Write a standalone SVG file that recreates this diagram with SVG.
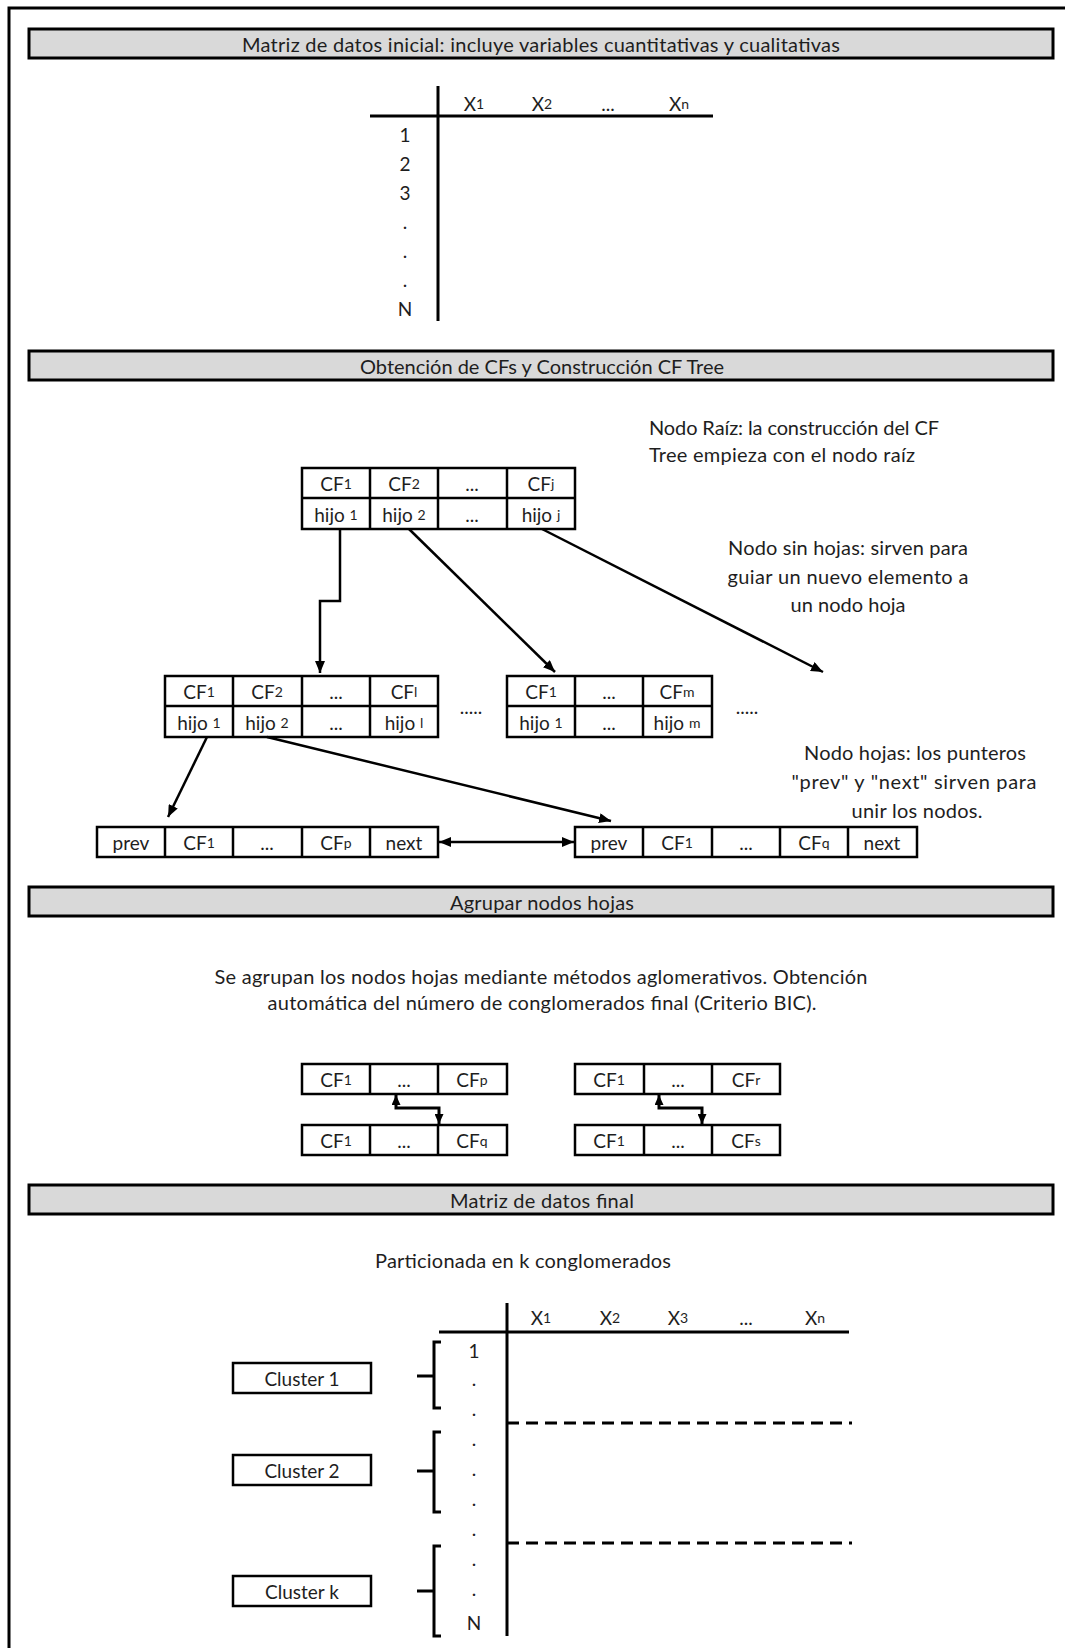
<svg xmlns="http://www.w3.org/2000/svg" width="1065" height="1648" viewBox="0 0 1065 1648">
<defs>
<style>
text{font-family:Lato,"Liberation Sans",sans-serif;font-size:19px;fill:#1e1e1e;}
.big{font-size:20px;}
.m{text-anchor:middle;dominant-baseline:central;}
.s{text-anchor:start;dominant-baseline:central;}
.sub{font-size:14px;}
.hdr{fill:#d9d9d9;stroke:#000;stroke-width:3;}
.box{fill:#fff;stroke:#000;stroke-width:2.5;}
.ln{fill:none;stroke:#000;stroke-width:2.5;}
.ax{fill:none;stroke:#000;stroke-width:3;}
.dash{fill:none;stroke:#000;stroke-width:3;stroke-dasharray:12 7;}
.arr{fill:none;stroke:#000;stroke-width:2.5;marker-end:url(#ah);}
.arr2{fill:none;stroke:#000;stroke-width:2.5;marker-end:url(#ah);marker-start:url(#ah);}
.arr3{fill:none;stroke:#000;stroke-width:3;marker-end:url(#ahs);marker-start:url(#ahs);}
</style>
<marker id="ah" markerUnits="userSpaceOnUse" markerWidth="12" markerHeight="10" refX="12" refY="5" orient="auto-start-reverse"><path d="M0,0 L12,5 L0,10 z" fill="#000"/></marker>
<marker id="ahs" markerUnits="userSpaceOnUse" markerWidth="10" markerHeight="9" refX="10" refY="4.5" orient="auto-start-reverse"><path d="M0,0 L10,4.5 L0,9 z" fill="#000"/></marker>
</defs>
<rect x="0" y="0" width="1065" height="1648" fill="#fff"/>
<rect x="9" y="8" width="1075" height="1660" fill="none" stroke="#000" stroke-width="3"/>

<!-- Section headers -->
<g id="header1"><rect class="hdr" x="29" y="29" width="1024" height="29"/><text class="m big" x="541" y="44" textLength="598">Matriz de datos inicial: incluye variables cuantitativas y cualitativas</text></g>
<g id="header2"><rect class="hdr" x="29" y="351" width="1024" height="29"/><text class="m big" x="542" y="366" textLength="364">Obtención de CFs y Construcción CF Tree</text></g>
<g id="header3"><rect class="hdr" x="29" y="887" width="1024" height="29"/><text class="m big" x="542" y="902" textLength="184">Agrupar nodos hojas</text></g>
<g id="header4"><rect class="hdr" x="29" y="1185" width="1024" height="29"/><text class="m big" x="542" y="1200" textLength="184">Matriz de datos final</text></g>

<!-- Initial data matrix -->
<g id="matrix-initial">
<path class="ax" d="M438,86 V321 M370,116 H713"/>
<text class="m" x="474" y="103">X<tspan class="sub">1</tspan></text>
<text class="m" x="542" y="103">X<tspan class="sub">2</tspan></text>
<text class="m" x="608" y="103">...</text>
<text class="m" x="679" y="103">X<tspan class="sub">n</tspan></text>
<text class="m" x="405" y="134">1</text>
<text class="m" x="405" y="163">2</text>
<text class="m" x="405" y="192">3</text>
<text class="m" x="405" y="221">.</text>
<text class="m" x="405" y="250">.</text>
<text class="m" x="405" y="279">.</text>
<text class="m" x="405" y="308">N</text>
</g>

<!-- Notes section 2 -->
<g id="note-raiz">
<text class="s big" x="649" y="427" textLength="290">Nodo Raíz: la construcción del CF</text>
<text class="s big" x="649" y="454" textLength="266">Tree empieza con el nodo raíz</text>
</g>
<g id="note-sinhojas">
<text class="m big" x="848" y="547" textLength="240">Nodo sin hojas: sirven para</text>
<text class="m big" x="848" y="576" textLength="241">guiar un nuevo elemento a</text>
<text class="m big" x="848" y="604" textLength="115">un nodo hoja</text>
</g>
<g id="note-hojas">
<text class="m big" x="915" y="752" textLength="222">Nodo hojas: los punteros</text>
<text class="m big" x="914" y="781" textLength="245">"prev" y "next" sirven para</text>
<text class="m big" x="917" y="810" textLength="131">unir los nodos.</text>
</g>

<!-- Root node -->
<g id="root-node">
<rect class="box" x="302" y="468" width="273" height="61"/>
<path class="ln" d="M302,498 H575 M370,468 V529 M438,468 V529 M507,468 V529"/>
<text class="m" x="336" y="483">CF<tspan class="sub">1</tspan></text>
<text class="m" x="404" y="483">CF<tspan class="sub">2</tspan></text>
<text class="m" x="472" y="483">...</text>
<text class="m" x="541" y="483">CF<tspan class="sub">j</tspan></text>
<text class="m" x="336" y="514">hijo <tspan class="sub">1</tspan></text>
<text class="m" x="404" y="514">hijo <tspan class="sub">2</tspan></text>
<text class="m" x="472" y="514">...</text>
<text class="m" x="541" y="514">hijo <tspan class="sub">j</tspan></text>
</g>

<!-- Non-leaf node 1 -->
<g id="nonleaf-1">
<rect class="box" x="165" y="676" width="273" height="61"/>
<path class="ln" d="M165,706 H438 M233,676 V737 M302,676 V737 M370,676 V737"/>
<text class="m" x="199" y="691">CF<tspan class="sub">1</tspan></text>
<text class="m" x="267" y="691">CF<tspan class="sub">2</tspan></text>
<text class="m" x="336" y="691">...</text>
<text class="m" x="404" y="691">CF<tspan class="sub">l</tspan></text>
<text class="m" x="199" y="722">hijo <tspan class="sub">1</tspan></text>
<text class="m" x="267" y="722">hijo <tspan class="sub">2</tspan></text>
<text class="m" x="336" y="722">...</text>
<text class="m" x="404" y="722">hijo <tspan class="sub">l</tspan></text>
</g>
<text class="m" x="471" y="706">.....</text>

<!-- Non-leaf node 2 -->
<g id="nonleaf-2">
<rect class="box" x="507" y="676" width="205" height="61"/>
<path class="ln" d="M507,706 H712 M575,676 V737 M643,676 V737"/>
<text class="m" x="541" y="691">CF<tspan class="sub">1</tspan></text>
<text class="m" x="609" y="691">...</text>
<text class="m" x="677" y="691">CF<tspan class="sub">m</tspan></text>
<text class="m" x="541" y="722">hijo <tspan class="sub">1</tspan></text>
<text class="m" x="609" y="722">...</text>
<text class="m" x="677" y="722">hijo <tspan class="sub">m</tspan></text>
</g>
<text class="m" x="747" y="706">.....</text>

<!-- Leaf nodes -->
<g id="leaf-1">
<rect class="box" x="97" y="827" width="341" height="30"/>
<path class="ln" d="M165,827 V857 M233,827 V857 M302,827 V857 M370,827 V857"/>
<text class="m" x="131" y="842">prev</text>
<text class="m" x="199" y="842">CF<tspan class="sub">1</tspan></text>
<text class="m" x="267" y="842">...</text>
<text class="m" x="336" y="842">CF<tspan class="sub">p</tspan></text>
<text class="m" x="404" y="842">next</text>
</g>
<g id="leaf-2">
<rect class="box" x="575" y="827" width="342" height="30"/>
<path class="ln" d="M643,827 V857 M712,827 V857 M780,827 V857 M848,827 V857"/>
<text class="m" x="609" y="842">prev</text>
<text class="m" x="677" y="842">CF<tspan class="sub">1</tspan></text>
<text class="m" x="746" y="842">...</text>
<text class="m" x="814" y="842">CF<tspan class="sub">q</tspan></text>
<text class="m" x="882" y="842">next</text>
</g>

<!-- Section 3 -->
<g id="note-agrupar">
<text class="m big" x="541" y="976" textLength="653">Se agrupan los nodos hojas mediante métodos aglomerativos. Obtención</text>
<text class="m big" x="542" y="1002" textLength="549">automática del número de conglomerados final (Criterio BIC).</text>
</g>
<g id="group-a-top">
<rect class="box" x="302" y="1064" width="205" height="30"/>
<path class="ln" d="M370,1064 V1094 M438,1064 V1094"/>
<text class="m" x="336" y="1079">CF<tspan class="sub">1</tspan></text>
<text class="m" x="404" y="1079">...</text>
<text class="m" x="472" y="1079">CF<tspan class="sub">p</tspan></text>
</g>
<g id="group-a-bottom">
<rect class="box" x="302" y="1125" width="205" height="30"/>
<path class="ln" d="M370,1125 V1155 M438,1125 V1155"/>
<text class="m" x="336" y="1140">CF<tspan class="sub">1</tspan></text>
<text class="m" x="404" y="1140">...</text>
<text class="m" x="472" y="1140">CF<tspan class="sub">q</tspan></text>
</g>
<g id="group-b-top">
<rect class="box" x="575" y="1064" width="205" height="30"/>
<path class="ln" d="M644,1064 V1094 M712,1064 V1094"/>
<text class="m" x="609" y="1079">CF<tspan class="sub">1</tspan></text>
<text class="m" x="678" y="1079">...</text>
<text class="m" x="746" y="1079">CF<tspan class="sub">r</tspan></text>
</g>
<g id="group-b-bottom">
<rect class="box" x="575" y="1125" width="205" height="30"/>
<path class="ln" d="M644,1125 V1155 M712,1125 V1155"/>
<text class="m" x="609" y="1140">CF<tspan class="sub">1</tspan></text>
<text class="m" x="678" y="1140">...</text>
<text class="m" x="746" y="1140">CF<tspan class="sub">s</tspan></text>
</g>

<!-- Section 4 -->
<text class="m big" x="523" y="1260" textLength="296">Particionada en k conglomerados</text>
<g id="matrix-final">
<path class="ax" d="M507,1303 V1636 M439,1332 H849"/>
<path class="dash" d="M507,1423 H852 M507,1543 H852"/>
<text class="m" x="541" y="1317">X<tspan class="sub">1</tspan></text>
<text class="m" x="610" y="1317">X<tspan class="sub">2</tspan></text>
<text class="m" x="678" y="1317">X<tspan class="sub">3</tspan></text>
<text class="m" x="746" y="1317">...</text>
<text class="m" x="815" y="1317">X<tspan class="sub">n</tspan></text>
<text class="m" x="474" y="1350">1</text>
<text class="m" x="474" y="1378">.</text>
<text class="m" x="474" y="1408">.</text>
<text class="m" x="474" y="1438">.</text>
<text class="m" x="474" y="1468">.</text>
<text class="m" x="474" y="1498">.</text>
<text class="m" x="474" y="1528">.</text>
<text class="m" x="474" y="1558">.</text>
<text class="m" x="474" y="1588">.</text>
<text class="m" x="474" y="1622">N</text>
</g>
<g id="cluster-1"><rect class="box" x="233" y="1363" width="138" height="30"/><text class="m" x="302" y="1378">Cluster 1</text></g>
<g id="cluster-2"><rect class="box" x="233" y="1455" width="138" height="30"/><text class="m" x="302" y="1470">Cluster 2</text></g>
<g id="cluster-k"><rect class="box" x="233" y="1576" width="138" height="30"/><text class="m" x="302" y="1591">Cluster k</text></g>

<!-- Connectors -->
<g id="connectors">
<path class="arr" d="M340,529 V601 H320 V673"/>
<path class="arr" d="M409,529 L555,672"/>
<path class="arr" d="M542,529 L823,672"/>
<path class="arr" d="M207,737 L168,817"/>
<path class="arr" d="M267,737 L611,821"/>
<path class="arr2" d="M439,842 H574"/>
<path class="arr3" d="M396,1095 V1108 H439 V1124"/>
<path class="arr3" d="M659,1095 V1108 H702 V1124"/>
<path class="ax" d="M441,1342 H434 V1408 H441 M417,1376 H434"/>
<path class="ax" d="M441,1432 H434 V1512 H441 M417,1471 H434"/>
<path class="ax" d="M441,1546 H434 V1636 H441 M417,1591 H434"/>
</g>
</svg>
